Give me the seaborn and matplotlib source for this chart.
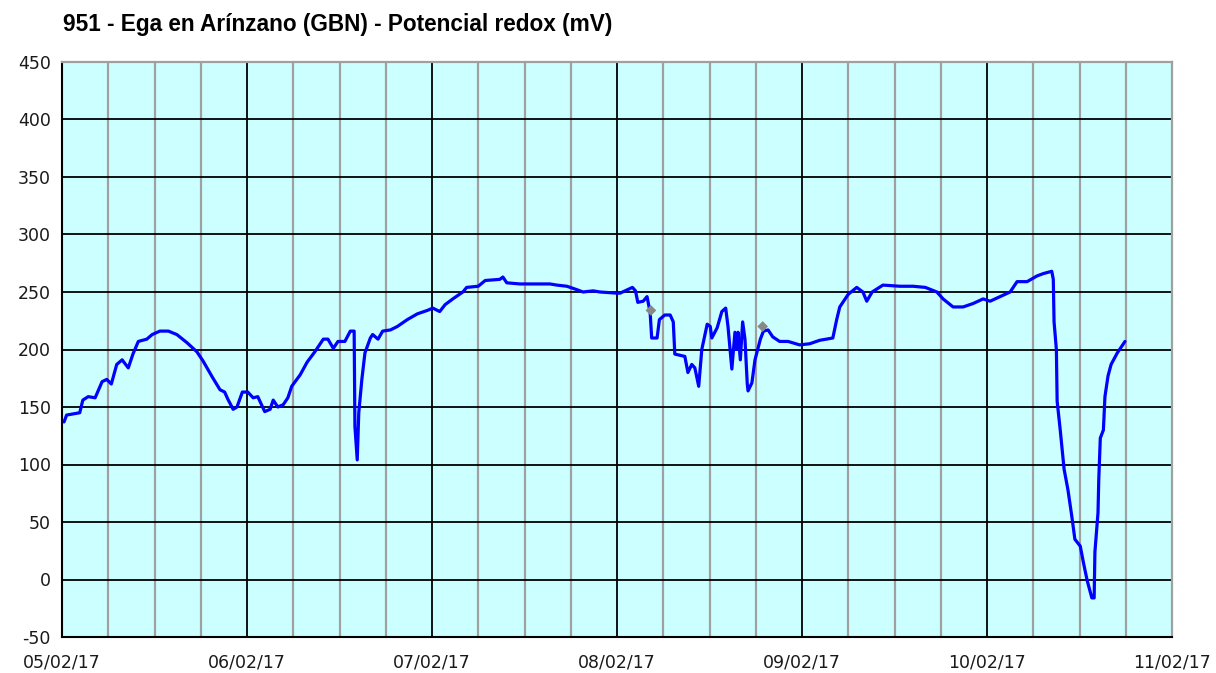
import pandas as pd
import numpy as np
import seaborn as sns
import matplotlib.pyplot as plt
import matplotlib.dates as mdates

# hours since 05/02/17 00:00 and redox potential (mV)
hours = [0.26, 0.6, 2.3, 2.7, 3.4, 4.3, 5.2, 5.8, 6.4, 7.1, 7.8, 8.6, 9.2, 9.9, 11.0, 11.7, 12.7,
         13.8, 14.9, 16.2, 17.5, 18.3, 19.5, 20.5, 21.1, 21.5, 22.2, 22.7, 23.4, 24.1, 24.8, 25.4,
         26.3, 27.0, 27.4, 28.0, 28.7, 29.3, 29.8, 30.9, 31.8, 32.8, 33.9, 34.5, 35.2, 35.8, 36.7,
         37.4, 37.9, 38.0, 38.3, 38.5, 38.9, 39.3, 40.0, 40.3, 41.0, 41.6, 42.6, 43.5, 44.8, 46.1,
         47.4, 48.1, 49.0, 49.7, 50.7, 52.0, 52.5, 54.0, 54.9, 56.8, 57.2, 57.7, 59.4, 63.3, 64.2,
         65.5, 66.8, 67.6, 68.9, 69.8, 72.0, 72.4, 74.0, 74.4, 74.7, 75.4, 75.9, 76.3, 76.5, 77.2,
         77.5, 78.2, 78.9, 79.3, 79.5, 80.8, 81.2, 81.7, 82.1, 82.6, 83.0, 83.7, 84.1, 84.3, 85.0,
         85.6, 86.1, 86.4, 86.9, 87.3, 87.6, 87.7, 88.0, 88.3, 88.6, 88.9, 89.0, 89.5, 89.9, 90.6,
         91.0, 91.6, 92.2, 93.1, 94.2, 95.7, 97.0, 98.3, 100.0, 100.5, 100.9, 102.0, 103.1, 103.9,
         104.4, 105.1, 106.5, 108.7, 110.4, 112.0, 113.5, 114.3, 115.6, 116.9, 118.2, 119.5, 120.4,
         121.7, 123.0, 123.9, 125.2, 126.5, 127.3, 128.4, 128.6, 128.7, 129.0, 129.1, 129.5, 130.0,
         130.5, 131.0, 131.4, 132.1, 132.5, 133.0, 133.6, 133.9, 134.0, 134.4, 134.5, 134.7, 135.1,
         135.3, 135.7, 136.1, 136.9, 137.5, 137.9]
redox = [137, 143, 145, 156, 159, 158, 172, 174, 170, 187, 191, 184, 196, 207, 209, 213, 216,
         216, 213, 206, 198, 190, 176, 165, 163, 157, 148, 150, 163, 163, 158, 159,
         146, 148, 156, 150, 152, 158, 168, 178, 189, 198, 209, 209, 201, 207, 207,
         216, 216, 133, 104, 145, 174, 197, 210, 213, 209, 216, 217, 220, 226, 231,
         234, 236, 233, 239, 244, 250, 254, 255, 260, 261, 263, 258, 257, 257, 256,
         255, 252, 250, 251, 250, 249, 249, 254, 251, 241, 242, 246, 232, 210, 210,
         226, 230, 230, 224, 196, 194, 180, 187, 184, 168, 200, 222, 220, 210, 219,
         233, 236, 220, 183, 215, 200, 215, 191, 224, 209, 170, 164, 171, 191, 209,
         216, 217, 211, 207, 207, 204, 205, 208, 210, 226, 237, 248, 254, 250,
         242, 250, 256, 255, 255, 254, 250, 244, 237, 237, 240, 244, 242,
         246, 250, 259, 259, 264, 266, 268, 261, 224, 200, 155, 130, 96,
         78, 55, 35, 29, 15, -1, -16, -16, 24, 58, 87, 123, 130,
         159, 177, 187, 197, 203, 207]

# flagged values (grey diamonds)
flag_hours = [76.4, 90.9]
flag_redox = [234, 220]

start = pd.Timestamp('2017-02-05')
df = pd.DataFrame({'fecha': start + pd.to_timedelta(hours, unit='h'), 'redox': redox})
flags = pd.DataFrame({'fecha': start + pd.to_timedelta(flag_hours, unit='h'), 'redox': flag_redox})

sns.set_style('white')
plt.rcParams['font.family'] = ['DejaVu Sans']
plt.rcParams['axes.unicode_minus'] = False

fig = plt.figure(figsize=(12.16, 6.73), dpi=100)
ax = fig.add_axes([62/1216, 1-637/673, 1110/1216, 575/673])
ax.set_facecolor('#CCFFFF')

sns.lineplot(data=df, x='fecha', y='redox', ax=ax, color='#0000FF', linewidth=2.3, zorder=3)
sns.scatterplot(data=flags, x='fecha', y='redox', ax=ax, color='#888888', marker='D', s=30,
                edgecolor='none', zorder=4)

ax.set_xlim(start, start + pd.Timedelta(days=6))
ax.set_ylim(-50, 450)
ax.set_yticks(np.arange(-50, 451, 50))
ax.xaxis.set_major_locator(mdates.DayLocator())
ax.xaxis.set_minor_locator(mdates.HourLocator(byhour=[6, 12, 18]))
ax.xaxis.set_major_formatter(mdates.DateFormatter('%d/%m/%y'))

ax.grid(True, which='minor', axis='x', color='#A0A0A0', linewidth=1.6, zorder=1)
ax.grid(True, which='major', axis='both', color='#000000', linewidth=1.3, zorder=2)
ax.set_axisbelow(True)

ax.tick_params(axis='both', which='major', direction='out', length=5, width=1.3,
               labelsize=12.5, colors='#000000', labelcolor='#1a1a1a')
ax.tick_params(axis='x', which='major', pad=7)
ax.tick_params(axis='x', which='minor', length=0)
ax.tick_params(axis='y', pad=3)
ax.set_xlabel('')
ax.set_ylabel('')

for side in ['top', 'right']:
    ax.spines[side].set_color('#A0A0A0')
    ax.spines[side].set_linewidth(1.6)
for side in ['left', 'bottom']:
    ax.spines[side].set_color('#000000')
    ax.spines[side].set_linewidth(1.5)

fig.text(63/1216, 1-25/673, '951 - Ega en Arínzano (GBN) - Potencial redox (mV)',
         fontsize=16.3, fontweight='bold', family='Liberation Sans', color='#000000',
         va='center', ha='left')

fig.savefig('out.png', dpi=100)
